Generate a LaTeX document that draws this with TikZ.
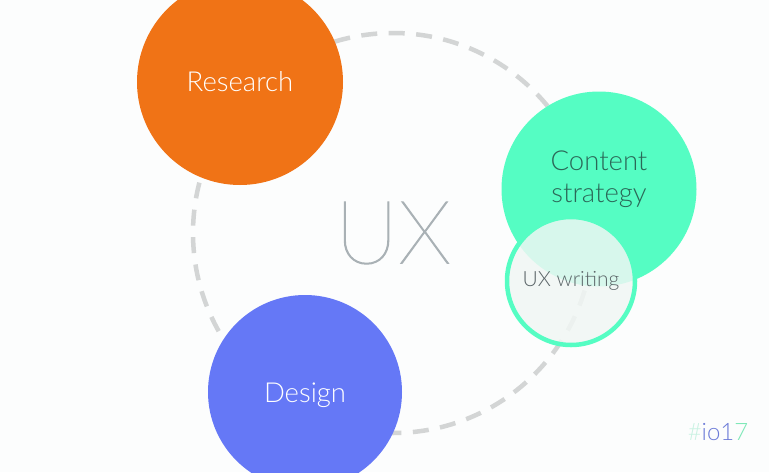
\documentclass[tikz,border=0pt]{standalone}
\usepackage{fontspec}
\setmainfont{Lato}
\newfontfamily\lightf{Lato Light}
\newfontfamily\thinf{Lato Thin}[FakeBold=1.2]
\definecolor{bgc}{HTML}{FCFDFD}
\definecolor{orangec}{HTML}{F07316}
\definecolor{mintc}{HTML}{55FDC3}
\definecolor{bluec}{HTML}{6578F6}
\definecolor{dashc}{HTML}{D3D5D5}
\definecolor{uxc}{HTML}{A9B1B5}
\definecolor{teal}{HTML}{2B6858}
\definecolor{wrt}{HTML}{5B6568}
\definecolor{wfill}{HTML}{F1F7F4}
\definecolor{logob}{HTML}{6C7BD8}
\definecolor{logog}{HTML}{7EE8B8}
\definecolor{logom}{HTML}{C8F2E2}
\tikzset{
  blob/.style={circle, inner sep=0pt, align=center, font=\lightf\fontsize{27.5}{32}\selectfont},
  lbl/.style={inner sep=0pt, align=center, font=\lightf\fontsize{27.5}{32}\selectfont},
  ring/.style={circle, inner sep=0pt, draw=dashc, line width=4.5pt, dash pattern=on 16pt off 11.5pt, text=uxc, font=\thinf\fontsize{88}{90}\selectfont},
}
\begin{document}
\begin{tikzpicture}[x=1pt,y=-1pt]
\fill[bgc] (0,0) rectangle (769,472);
\useasboundingbox (0,0) rectangle (769,472);
\clip (0,0) rectangle (769,472);
\node[ring, minimum size=400pt] (ux) at (393,233) {UX};
\node[blob, fill=orangec, text=white, minimum size=206pt] (research) at (240,82) {Research};
\node[blob, fill=bluec, minimum size=194pt] (design) at (305,392) {};
\node[lbl, text=white] (designlbl) at ([yshift=-3pt]design.center) {Design};
\node[blob, fill=mintc, minimum size=195pt] (content) at (599,189) {};
\node[lbl, text=teal] (contentlbl) at ([yshift=10pt]content.center) {Content\\strategy};
\node[blob, draw=mintc, line width=4.5pt, fill=wfill, fill opacity=0.84, text opacity=1, text=wrt, minimum size=128pt, font=\lightf\fontsize{21}{26}\selectfont] (writing) at (571,281) {UX writing};
\node[font=\lightf\fontsize{24}{26}\selectfont, anchor=center] (logo) at (718,432) {\textcolor{logom}{\#}\textcolor{logob}{io1}\textcolor{logog}{7}};
\end{tikzpicture}
\end{document}
